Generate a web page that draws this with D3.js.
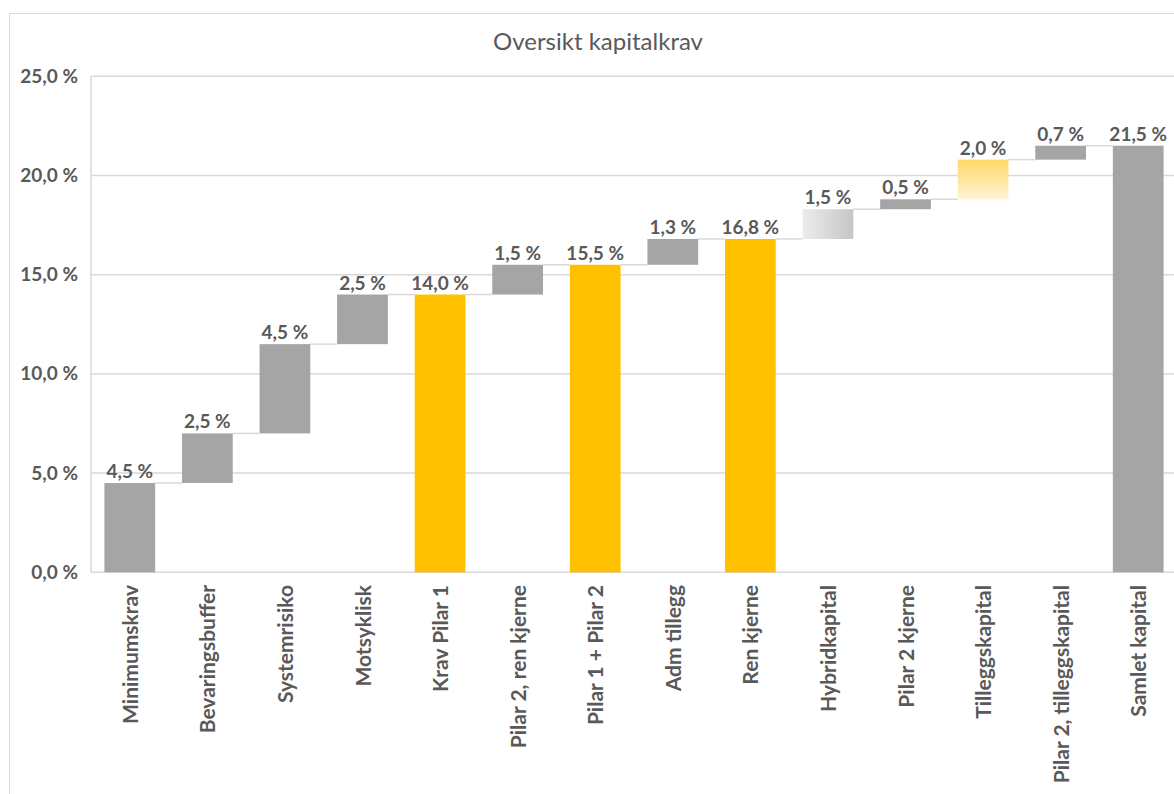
<!DOCTYPE html>
<html>
<head>
<meta charset="utf-8">
<script src="https://cdn.jsdelivr.net/npm/d3@7"></script>
<style>
  body { margin: 0; background: #fff; }
  text { font-family: Lato, "Open Sans", sans-serif; fill: #595959; }
</style>
</head>
<body>
<svg id="chart" width="1174" height="794"></svg>
<script>
// categories and values (percent)
const categories = ["Minimumskrav", "Bevaringsbuffer", "Systemrisiko", "Motsyklisk", "Krav Pilar 1",
  "Pilar 2, ren kjerne", "Pilar 1 + Pilar 2", "Adm tillegg", "Ren kjerne", "Hybridkapital",
  "Pilar 2 kjerne", "Tilleggskapital", "Pilar 2, tilleggskapital", "Samlet kapital"];
const steps = [4.5, 2.5, 4.5, 2.5, null, 1.5, null, 1.3, null, 1.5, 0.5, 2.0, 0.7, null];
const kinds = ["grey", "grey", "grey", "grey", "total", "grey", "total", "grey", "total",
  "hybrid", "grey", "tillegg", "grey", "totalGrey"];
const yTicks = [0, 5, 10, 15, 20, 25];

const svg = d3.select("#chart");

// gradients
const defs = svg.append("defs");
const hg = defs.append("linearGradient").attr("id", "hybridGrad")
  .attr("x1", "0%").attr("x2", "100%").attr("y1", "0%").attr("y2", "0%");
hg.append("stop").attr("offset", "0%").attr("stop-color", "#ececec");
hg.append("stop").attr("offset", "100%").attr("stop-color", "#c6c6c6");
const tg = defs.append("linearGradient").attr("id", "tilleggGrad")
  .attr("x1", "0%").attr("x2", "0%").attr("y1", "0%").attr("y2", "100%");
tg.append("stop").attr("offset", "0%").attr("stop-color", "#ffd966");
tg.append("stop").attr("offset", "100%").attr("stop-color", "#fff4d6");

const fills = {
  grey: "#a5a5a5", totalGrey: "#a5a5a5", total: "#ffc000",
  hybrid: "url(#hybridGrad)", tillegg: "url(#tilleggGrad)"
};

// build waterfall rows
let running = 0;
const rows = categories.map((c, i) => {
  if (steps[i] === null) {
    return { name: c, start: 0, end: running, value: running, kind: kinds[i] };
  }
  const r = { name: c, start: running, end: running + steps[i], value: steps[i], kind: kinds[i] };
  running = +(running + steps[i]).toFixed(2);
  return r;
});

// chart frame
svg.append("rect").attr("x", 9.5).attr("y", 13.5).attr("width", 1200).attr("height", 800)
  .attr("fill", "none").attr("stroke", "#d9d9d9");

svg.append("text").attr("x", 598).attr("y", 50).attr("text-anchor", "middle")
  .attr("font-size", 24).text("Oversikt kapitalkrav");

const x = d3.scaleBand().domain(categories).range([91, 1177]).paddingInner(0.346).paddingOuter(0.173);
const y = d3.scaleLinear().domain([0, 25]).range([572.3, 76.3]);

// gridlines
svg.append("g")
  .selectAll("line")
  .data(yTicks)
  .enter()
  .append("line")
  .attr("x1", 91).attr("x2", 1174)
  .attr("y1", d => y(d)).attr("y2", d => y(d))
  .attr("stroke", "#d9d9d9").attr("stroke-width", 1.5);

// left border of plot area
svg.append("line").attr("x1", 91).attr("x2", 91).attr("y1", y(25)).attr("y2", y(0))
  .attr("stroke", "#d9d9d9").attr("stroke-width", 1.5);

// y axis labels
const fmt = v => d3.format(".1f")(v).replace(".", ",") + " %";
const yAxis = svg.append("g").attr("transform", "translate(78,0)")
  .call(d3.axisLeft(y).tickValues(yTicks).tickFormat(fmt).tickSize(0).tickPadding(0));
yAxis.select(".domain").remove();
yAxis.selectAll("text").attr("font-size", 19).attr("font-weight", "bold")
  .attr("fill", "#595959").style("font-family", "Lato, sans-serif");

// connectors
svg.append("g")
  .selectAll("line")
  .data(rows.slice(0, -1))
  .enter()
  .append("line")
  .attr("x1", d => x(d.name) + x.bandwidth())
  .attr("x2", (d, i) => x(categories[i + 1]))
  .attr("y1", d => y(d.end))
  .attr("y2", d => y(d.end))
  .attr("stroke", "#d9d9d9").attr("stroke-width", 1.5);

// bars
svg.append("g")
  .selectAll("rect")
  .data(rows)
  .enter()
  .append("rect")
  .attr("x", d => x(d.name))
  .attr("width", x.bandwidth())
  .attr("y", d => y(d.end))
  .attr("height", d => y(d.start) - y(d.end))
  .attr("fill", d => fills[d.kind]);

// value labels
svg.append("g")
  .selectAll("text")
  .data(rows)
  .enter()
  .append("text")
  .attr("x", d => x(d.name) + x.bandwidth() / 2)
  .attr("y", d => y(d.end) - 5)
  .attr("text-anchor", "middle")
  .attr("font-size", 19).attr("font-weight", "bold")
  .text(d => fmt(d.value));

// category labels
svg.append("g")
  .selectAll("text")
  .data(categories)
  .enter()
  .append("text")
  .attr("transform", d => `translate(${x(d) + x.bandwidth() / 2 + 8},585) rotate(-90)`)
  .attr("text-anchor", "end")
  .attr("font-size", 21).attr("font-weight", "bold")
  .text(d => d);
</script>
</body>
</html>
